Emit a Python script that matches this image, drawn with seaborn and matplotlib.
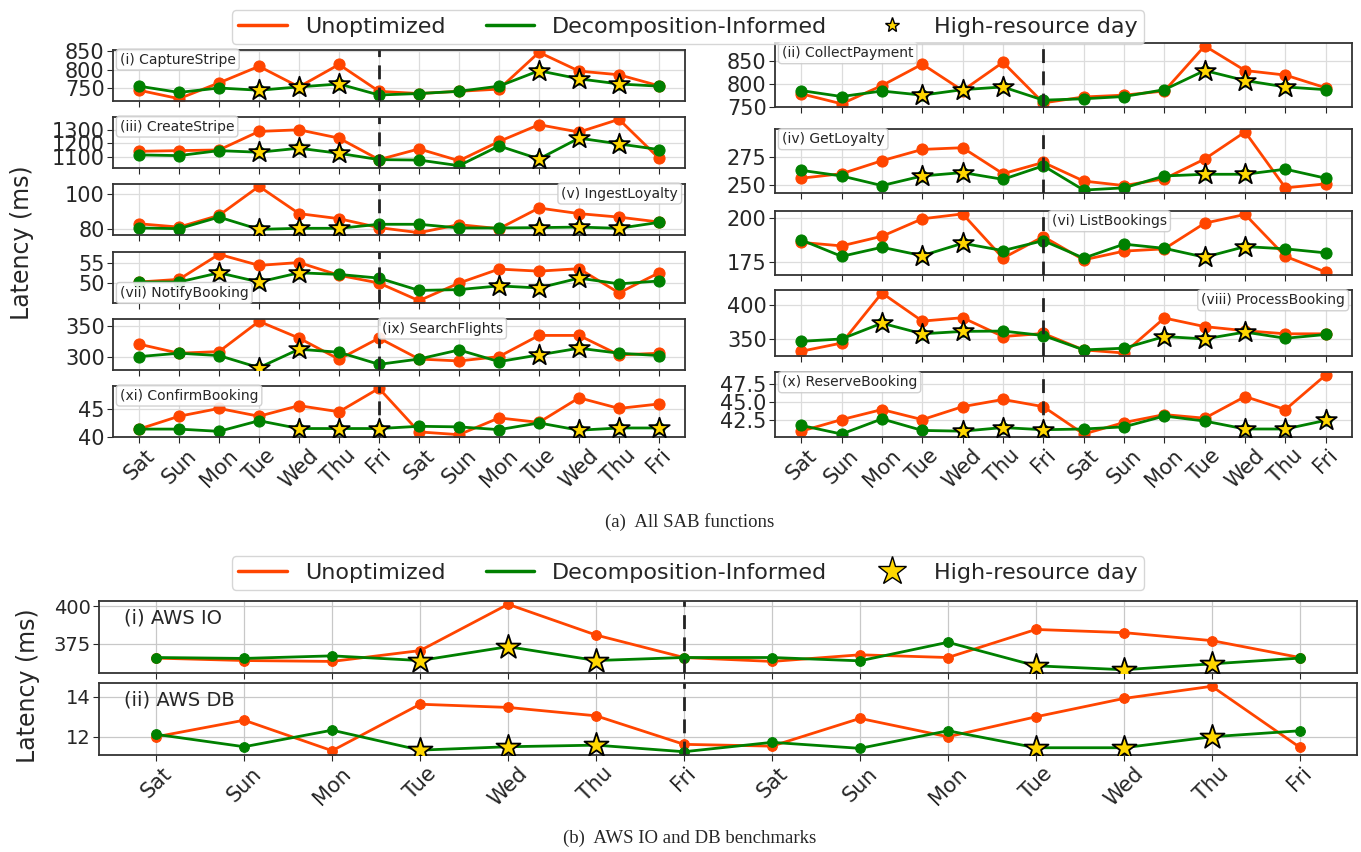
import numpy as np
import matplotlib
matplotlib.use("Agg")
import matplotlib.pyplot as plt
import seaborn as sns
from matplotlib.lines import Line2D

sns.set_style("ticks")
plt.rcParams['font.family'] = ['DejaVu Sans']

days = ["Sat", "Sun", "Mon", "Tue", "Wed", "Thu", "Fri"] * 2

# (i) CaptureStripe
capture_unopt = [744, 721, 764, 809, 753, 814, 741, 735, 741, 747, 847, 796, 786, 756]
capture_decomp = [755, 738, 750, 744, 753, 761, 731, 735, 741, 755, 797, 775, 761, 755]
capture_stars = [3, 4, 5, 10, 11, 12]
# (ii) CollectPayment
collect_unopt = [779, 757, 797, 844, 786, 848, 759, 772, 776, 785, 884, 830, 820, 792]
collect_decomp = [786, 773, 785, 776, 788, 794, 765, 768, 773, 788, 830, 808, 794, 788]
collect_stars = [3, 4, 5, 10, 11, 12]
# (iii) CreateStripe
create_unopt = [1140, 1145, 1150, 1288, 1300, 1238, 1078, 1158, 1070, 1213, 1338, 1283, 1378, 1088]
create_decomp = [1113, 1108, 1145, 1133, 1163, 1125, 1078, 1075, 1033, 1180, 1083, 1238, 1195, 1153]
create_stars = [3, 4, 5, 10, 11, 12]
# (iv) GetLoyalty
getloy_unopt = [256, 260, 271.5, 281.5, 283, 260, 270, 253.5, 249.5, 255.5, 273, 297, 247.5, 251]
getloy_decomp = [263, 258, 249.5, 258, 261, 255, 267, 245.5, 247.5, 258, 259.5, 259.5, 264, 256]
getloy_stars = [3, 4, 10, 11]
# (v) IngestLoyalty
ingest_unopt = [83.2, 81.3, 88, 104.6, 89, 86.1, 81, 78.1, 82.7, 80.4, 92.2, 89, 87, 84.2]
ingest_decomp = [80.8, 80.4, 87, 80, 80.6, 80.6, 82.9, 82.9, 80.8, 80.8, 81, 81.3, 80.6, 84]
ingest_stars = [3, 4, 5, 10, 11, 12]
# (vi) ListBookings
list_unopt = [186, 184, 189.5, 199.5, 202.3, 177, 189.3, 176, 181, 182.3, 197, 202, 178, 169]
list_decomp = [187.4, 178, 183.2, 178.4, 185.5, 181.3, 187, 177, 185, 182.6, 177.5, 183.6, 182.3, 180]
list_stars = [3, 4, 10, 11]
# (vii) NotifyBooking
notify_unopt = [50.25, 50.9, 57, 54.3, 55, 51.9, 50, 45.7, 50, 53.4, 52.9, 53.5, 47.6, 52.5]
notify_decomp = [50.25, 50.25, 52.5, 50.25, 52.5, 52.1, 51.2, 48.2, 48.4, 49.3, 48.8, 51.2, 49.8, 50.5]
notify_stars = [2, 3, 4, 9, 10, 11]
# (viii) ProcessBooking
process_unopt = [332, 344, 417, 376, 381, 353.5, 358, 334, 329.5, 380.5, 368, 362, 357.5, 357.5]
process_decomp = [346.5, 350, 373, 357.5, 361, 361.5, 355, 334, 336.5, 353.5, 350, 360, 351, 356.5]
process_stars = [2, 3, 4, 9, 10, 11]
# (ix) SearchFlights
search_unopt = [320.6, 305.6, 308.3, 358.3, 330.6, 295.6, 330.6, 296, 292.8, 300, 335, 335, 302.8, 305.6]
search_decomp = [300, 305.6, 301.7, 281.7, 312.2, 307.2, 287.2, 296, 311, 291.7, 302.8, 313.9, 305.6, 301.7]
search_stars = [3, 4, 10, 11]
# (x) ReserveBooking
reserve_unopt = [41, 42.6, 44, 42.6, 44.4, 45.4, 44.4, 40.6, 42.2, 43.3, 42.8, 45.8, 44, 48.8]
reserve_decomp = [41.8, 40.6, 42.7, 41.1, 41, 41.5, 41.2, 41.3, 41.6, 43.1, 42.4, 41.3, 41.3, 42.5]
reserve_stars = [4, 5, 6, 11, 12, 13]
# (xi) ConfirmBooking
confirm_unopt = [41.4, 43.7, 45.1, 43.7, 45.6, 44.5, 48.7, 40.9, 40.4, 43.4, 42.6, 47, 45.1, 45.9]
confirm_decomp = [41.4, 41.4, 41, 42.9, 41.5, 41.5, 41.5, 41.9, 41.8, 41.3, 42.5, 41.2, 41.6, 41.6]
confirm_stars = [4, 5, 6, 11, 12, 13]
# (b) AWS IO / DB
awsio_unopt = [365.6, 364, 363.4, 370.6, 401.3, 380.9, 366, 363.4, 367.8, 366, 384.6, 382.5, 377.2, 366]
awsio_decomp = [366, 365.4, 367.1, 364, 373.2, 364, 366, 366, 363.8, 376.1, 360.5, 357.9, 361.8, 365.6]
awsio_stars = [3, 4, 5, 10, 11, 12]
awsdb_unopt = [12, 12.83, 11.3, 13.63, 13.47, 13.05, 11.62, 11.53, 12.92, 12, 13, 13.92, 14.53, 11.47]
awsdb_decomp = [12.12, 11.5, 12.33, 11.33, 11.5, 11.58, 11.25, 11.72, 11.42, 12.3, 11.45, 11.45, 12, 12.3]
awsdb_stars = [3, 4, 5, 10, 11, 12]

ORANGE = "#ff4500"
GREEN = "#008000"
STAR = "#ffd700"

W, H = 1361, 852
fig = plt.figure(figsize=(W / 100, H / 100), dpi=100)


def add_ax(x0, y0, x1, y1):
    return fig.add_axes([x0 / W, 1 - y1 / H, (x1 - x0) / W, (y1 - y0) / H])


def draw(ax, unopt, decomp, stars, ticks, label, pos, big=False, fmt=None,
         show_days=False):
    x = np.arange(len(days))
    ms = 7 if big else 8
    sns.lineplot(x=x, y=unopt, ax=ax, color=ORANGE, marker="o", markersize=ms,
                 markeredgecolor=ORANGE, linewidth=2)
    sns.lineplot(x=x, y=decomp, ax=ax, color=GREEN, marker="o", markersize=ms,
                 markeredgecolor=GREEN, linewidth=2)
    dec = np.array(decomp)
    sns.scatterplot(x=x[stars], y=dec[stars], ax=ax, marker="*",
                    s=330 if big else 240, color=STAR, edgecolor="black",
                    linewidth=1.3, zorder=5)
    ax.axvline(6, color="#222222", ls=(0, (5, 3)), lw=2, zorder=4)
    ax.set_xticks(x)
    ax.set_yticks(ticks)
    if fmt:
        ax.set_yticklabels([fmt % t for t in ticks])
    ax.grid(True, color="#c8c8c8" if big else "#dcdcdc", lw=0.9)
    for s in ax.spines.values():
        s.set_color("#333333")
        s.set_linewidth(1.3)
    ax.tick_params(axis="y", labelsize=14 if big else 15, length=4, pad=2)
    if show_days:
        ax.set_xticklabels(days, rotation=45, fontsize=15, ha="center")
        ax.tick_params(axis="x", length=4, pad=2)
    else:
        ax.set_xticklabels([])
        ax.tick_params(axis="x", length=4)
    ax.set_xlabel("")
    ax.set_ylabel("")
    px, py, ha, va = pos
    if big:
        ax.text(px, py, label, transform=ax.transAxes, ha=ha, va=va,
                fontsize=14, zorder=6)
    else:
        ax.text(px, py, label, transform=ax.transAxes, ha=ha, va=va,
                fontsize=10, zorder=6,
                bbox=dict(boxstyle="round,pad=0.25", fc="white", ec="#cccccc",
                          alpha=0.9))


UL = (0.012, 0.95, "left", "top")
UR = (0.988, 0.95, "right", "top")
LL = (0.012, 0.06, "left", "bottom")

# left column
lx0, lx1 = 113, 685
ltops = [50, 117, 184, 252, 319, 386]
lh = 51
left_specs = [
    (capture_unopt, capture_decomp, capture_stars, [750, 800, 850], "(i) CaptureStripe", UL, None),
    (create_unopt, create_decomp, create_stars, [1100, 1200, 1300], "(iii) CreateStripe", UL, None),
    (ingest_unopt, ingest_decomp, ingest_stars, [80, 100], "(v) IngestLoyalty", UR, None),
    (notify_unopt, notify_decomp, notify_stars, [50, 55], "(vii) NotifyBooking", LL, None),
    (search_unopt, search_decomp, search_stars, [300, 350], "(ix) SearchFlights", (0.47, 0.95, "left", "top"), None),
    (confirm_unopt, confirm_decomp, confirm_stars, [40, 45], "(xi) ConfirmBooking", UL, None),
]
for i, (u, d, st, tk, lab, pos, fmt) in enumerate(left_specs):
    ax = add_ax(lx0, ltops[i], lx1, ltops[i] + lh)
    draw(ax, u, d, st, tk, lab, pos, fmt=fmt, show_days=(i == len(left_specs) - 1))

# right column
rx0, rx1 = 775, 1352
rtops = [43, 129, 211, 290, 372]
rbots = [107, 193, 275, 356, 437]
right_specs = [
    (collect_unopt, collect_decomp, collect_stars, [750, 800, 850], "(ii) CollectPayment", UL, None),
    (getloy_unopt, getloy_decomp, getloy_stars, [250, 275], "(iv) GetLoyalty", UL, None),
    (list_unopt, list_decomp, list_stars, [175, 200], "(vi) ListBookings", (0.48, 0.95, "left", "top"), None),
    (process_unopt, process_decomp, process_stars, [350, 400], "(viii) ProcessBooking", UR, None),
    (reserve_unopt, reserve_decomp, reserve_stars, [42.5, 45.0, 47.5], "(x) ReserveBooking", UL, "%.1f"),
]
for i, (u, d, st, tk, lab, pos, fmt) in enumerate(right_specs):
    ax = add_ax(rx0, rtops[i], rx1, rbots[i])
    draw(ax, u, d, st, tk, lab, pos, fmt=fmt, show_days=(i == len(right_specs) - 1))

# bottom section
bx0, bx1 = 99, 1357
ax_io = add_ax(bx0, 601, bx1, 673)
draw(ax_io, awsio_unopt, awsio_decomp, awsio_stars, [375, 400], "(i) AWS IO",
     (0.02, 0.9, "left", "top"), big=True)
ax_db = add_ax(bx0, 683, bx1, 755)
draw(ax_db, awsdb_unopt, awsdb_decomp, awsdb_stars, [12, 14], "(ii) AWS DB",
     (0.02, 0.9, "left", "top"), big=True, show_days=True)


def legend_handles(star_ms):
    return [
        Line2D([], [], color=ORANGE, lw=2.5, label="Unoptimized"),
        Line2D([], [], color=GREEN, lw=2.5, label="Decomposition-Informed"),
        Line2D([], [], color="none", marker="*", markersize=star_ms,
               markerfacecolor=STAR, markeredgecolor="black", label="High-resource day"),
    ]


for ycen, sm in [(27, 11), (573, 21)]:
    fig.legend(handles=legend_handles(sm), loc="center",
               bbox_to_anchor=(688 / W, 1 - ycen / H),
               ncol=3, fontsize=16, frameon=True, fancybox=True, edgecolor="#cccccc",
               handlelength=2.2, columnspacing=1.8, borderpad=0.3)

fig.text(22 / W, 1 - 243 / H, "Latency (ms)", rotation=90, ha="center", va="center", fontsize=17)
fig.text(28 / W, 1 - 686 / H, "Latency (ms)", rotation=90, ha="center", va="center", fontsize=17)

fig.text(690 / W, 1 - 522 / H, "(a)  All SAB functions", ha="center", va="center",
         fontsize=13.5, family=["Liberation Serif"])
fig.text(690 / W, 1 - 838 / H, "(b)  AWS IO and DB benchmarks", ha="center", va="center",
         fontsize=13.5, family=["Liberation Serif"])

fig.savefig("out.png", dpi=100)
